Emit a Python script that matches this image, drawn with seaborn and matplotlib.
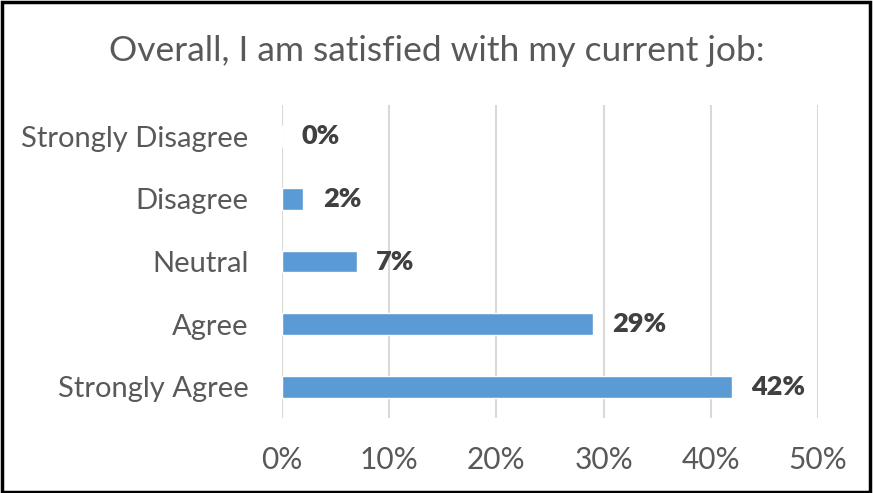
import matplotlib
matplotlib.use("Agg")
import matplotlib.pyplot as plt
import matplotlib.patches as mpatches
from matplotlib.ticker import FuncFormatter
import seaborn as sns
import pandas as pd

categories = ["Strongly Disagree", "Disagree", "Neutral", "Agree", "Strongly Agree"]
shares = [0, 2, 7, 29, 42]
x_ticks = [0, 10, 20, 30, 40, 50]

sns.set_theme(style="white")
plt.rcParams["font.family"] = ["Lato", "DejaVu Sans"]

df = pd.DataFrame({"response": categories, "share": shares})

fig = plt.figure(figsize=(8.73, 4.93), dpi=100)
ax = fig.add_axes([0.323, 0.152, 0.614, 0.635])

sns.barplot(data=df, x="share", y="response", order=categories,
            color="#5B9BD5", saturation=1, width=0.35, ax=ax, zorder=3)

ax.set_xlim(0, 50)
ax.set_xticks(x_ticks)
ax.xaxis.set_major_formatter(FuncFormatter(lambda v, _: f"{v:.0f}%"))
ax.grid(axis="x", color="#D9D9D9", linewidth=1.5, zorder=0)
ax.set_axisbelow(True)
for s in ax.spines.values():
    s.set_visible(False)
ax.set_xlabel("")
ax.set_ylabel("")
ax.tick_params(axis="both", length=0, labelcolor="#595959")
ax.tick_params(axis="y", pad=24, labelsize=21)
ax.tick_params(axis="x", pad=20, labelsize=21.5)

for i, v in enumerate(shares):
    ax.text(v + 1.8, i, f"{v}%", va="center", ha="left",
            fontsize=19.5, fontweight="heavy", color="#404040")

fig.text(0.5, 0.897, "Overall, I am satisfied with my current job:",
         ha="center", va="center", fontsize=25.5, color="#595959")

fig.patches.append(mpatches.Rectangle((0.002, 0.003), 0.995, 0.993,
                                      transform=fig.transFigure, fill=False,
                                      edgecolor="black", linewidth=2.5))

fig.savefig("out.png", dpi=100)
